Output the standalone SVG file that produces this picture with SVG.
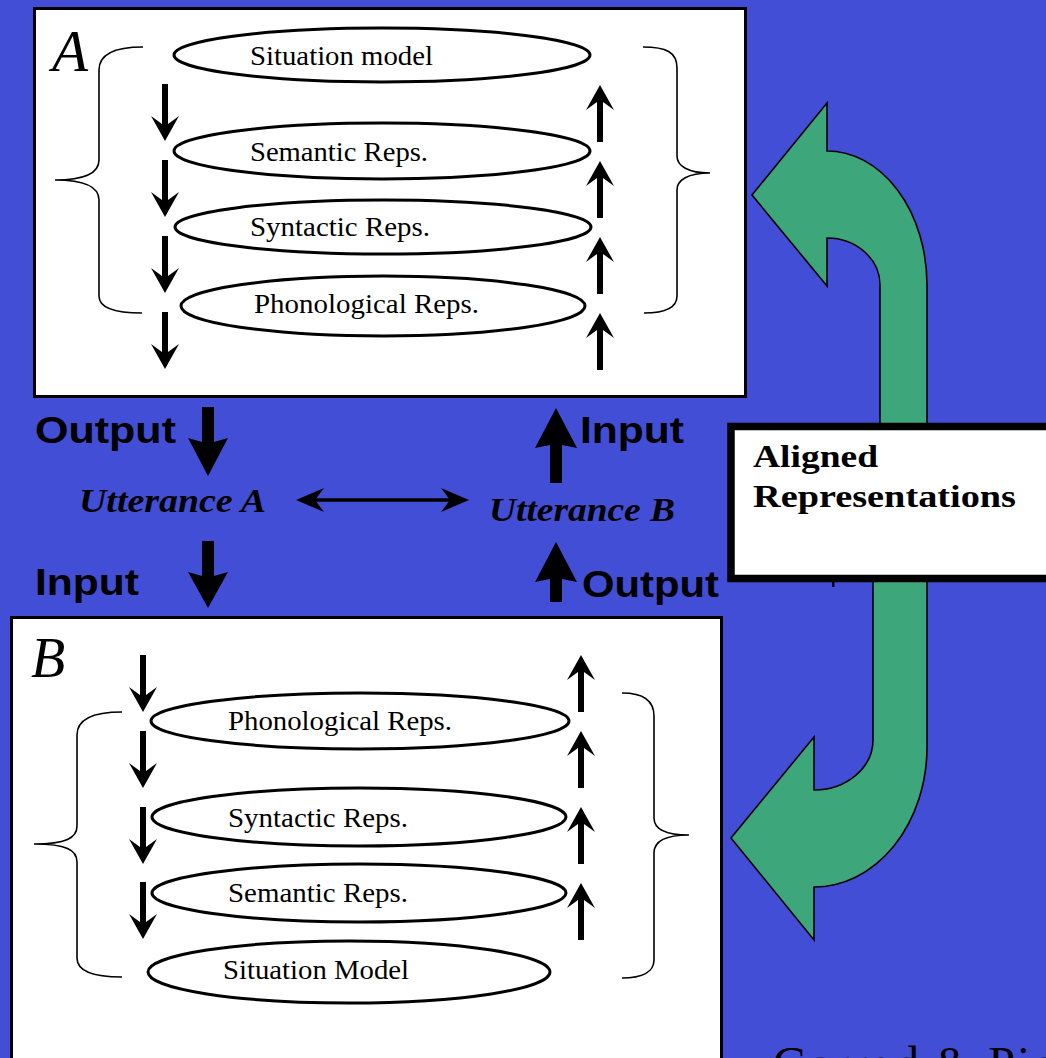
<svg xmlns="http://www.w3.org/2000/svg" xmlns:xlink="http://www.w3.org/1999/xlink" width="1046" height="1058" viewBox="0 0 1046 1058">
<style>
.bg{fill:#434ED6}
.box{fill:#fff;stroke:#000;stroke-width:3}
.ell{fill:#fff;stroke:#000;stroke-width:3}
.brace{fill:none;stroke:#000;stroke-width:1.6}
.rep{font-family:"Liberation Serif","Times New Roman",serif;font-size:28px;fill:#000}
.big{font-family:"Liberation Serif","Times New Roman",serif;font-style:italic;fill:#000}
.io{font-family:"Liberation Sans",Arial,sans-serif;font-weight:bold;font-size:37px;fill:#000}
.utt{font-family:"Liberation Serif","Times New Roman",serif;font-weight:bold;font-style:italic;font-size:34px;fill:#000}
.al{font-family:"Liberation Serif","Times New Roman",serif;font-weight:bold;font-size:32px;fill:#000}
.green{fill:#3EA67B;stroke:#000;stroke-width:1.6;stroke-linejoin:miter}
.arr{fill:#000}
</style>
<defs>
<path id="dn" d="M -3 0 H 3 V 40 L 14 32 L 0 57 L -14 32 L -3 40 Z"/>
</defs>
<rect class="bg" x="0" y="0" width="1046" height="1058"/>

<g id="green-arrows">
<path class="green" d="M 927 432 L 927 285 A 100 134 0 0 0 827 151 L 827 103 L 752 195 L 827 286 L 827 238 A 53 47 0 0 1 880 285 L 880 432 Z"/>
<path class="green" d="M 873 572 L 873 740 A 59 50 0 0 1 814 790 L 814 737 L 731 838 L 814 940 L 814 887 A 113 140 0 0 0 927 747 L 927 572 Z"/>
</g>

<g id="node-A">
<rect class="box" x="34.5" y="8.5" width="711" height="388"/>
<text class="big" x="52" y="71" font-size="59">A</text>
<path class="brace" d="M 143 47 C 118 47 99 52 99 70 L 99 160 C 99 172 88 180 55 180 C 88 180 99 188 99 200 L 99 296 C 99 308 115 313 142 313"/>
<path class="brace" d="M 643 47 C 666 47 677 52 677 68 L 677 156 C 677 166 688 173 710 173 C 688 173 677 180 677 190 L 677 296 C 677 308 665 313 644 313"/>
<g id="A-situation"><ellipse class="ell" cx="382" cy="55" rx="208" ry="27"/><text class="rep" x="250" y="65" textLength="183" lengthAdjust="spacingAndGlyphs">Situation model</text></g>
<g id="A-semantic"><ellipse class="ell" cx="382" cy="151" rx="208" ry="28"/><text class="rep" x="250" y="161" textLength="178" lengthAdjust="spacingAndGlyphs">Semantic Reps.</text></g>
<g id="A-syntactic"><ellipse class="ell" cx="383" cy="227" rx="208" ry="27"/><text class="rep" x="250" y="236" textLength="180" lengthAdjust="spacingAndGlyphs">Syntactic Reps.</text></g>
<g id="A-phonological"><ellipse class="ell" cx="383" cy="306" rx="202" ry="30"/><text class="rep" x="254" y="313" textLength="225" lengthAdjust="spacingAndGlyphs">Phonological Reps.</text></g>
<g class="arr">
<use href="#dn" transform="translate(165,84)"/>
<use href="#dn" transform="translate(165,160)"/>
<use href="#dn" transform="translate(165,236)"/>
<use href="#dn" transform="translate(165,312)"/>
<use href="#dn" transform="translate(600,142) rotate(180)"/>
<use href="#dn" transform="translate(600,218) rotate(180)"/>
<use href="#dn" transform="translate(600,294) rotate(180)"/>
<use href="#dn" transform="translate(600,370) rotate(180)"/>
</g>
</g>

<g id="node-B">
<rect class="box" x="11.5" y="617.5" width="710" height="460"/>
<text class="big" x="31" y="677" font-size="56">B</text>
<path class="brace" d="M 122 712 C 94 712 77 718 77 735 L 77 826 C 77 838 66 844 34 844 C 66 844 77 850 77 862 L 77 958 C 77 972 96 977 122 977"/>
<path class="brace" d="M 622 693 C 642 693 654 700 654 716 L 654 818 C 654 829 665 835 689 835 C 665 835 654 842 654 853 L 654 960 C 654 972 642 978 622 978"/>
<g id="B-phonological"><ellipse class="ell" cx="360" cy="721" rx="209" ry="28"/><text class="rep" x="228" y="730" textLength="224" lengthAdjust="spacingAndGlyphs">Phonological Reps.</text></g>
<g id="B-syntactic"><ellipse class="ell" cx="359" cy="817" rx="207" ry="29"/><text class="rep" x="228" y="827" textLength="180" lengthAdjust="spacingAndGlyphs">Syntactic Reps.</text></g>
<g id="B-semantic"><ellipse class="ell" cx="359" cy="893" rx="207" ry="29"/><text class="rep" x="228" y="902" textLength="180" lengthAdjust="spacingAndGlyphs">Semantic Reps.</text></g>
<g id="B-situation"><ellipse class="ell" cx="349" cy="972" rx="201" ry="31"/><text class="rep" x="223" y="979" textLength="186" lengthAdjust="spacingAndGlyphs">Situation Model</text></g>
<g class="arr">
<use href="#dn" transform="translate(143,655)"/>
<use href="#dn" transform="translate(143,731)"/>
<use href="#dn" transform="translate(143,807)"/>
<use href="#dn" transform="translate(143,882)"/>
<use href="#dn" transform="translate(581,712) rotate(180)"/>
<use href="#dn" transform="translate(581,788) rotate(180)"/>
<use href="#dn" transform="translate(581,864) rotate(180)"/>
<use href="#dn" transform="translate(581,940) rotate(180)"/>
</g>
</g>

<g id="node-aligned">
<rect x="731" y="426.5" width="340" height="152" fill="#fff" stroke="#000" stroke-width="7.5"/>
<text class="al" x="753" y="467" textLength="125" lengthAdjust="spacingAndGlyphs">Aligned</text>
<text class="al" x="753" y="507" textLength="263" lengthAdjust="spacingAndGlyphs">Representations</text>
<rect x="832" y="582" width="2.5" height="5" fill="#000"/>
</g>

<g id="utterances">
<text class="utt" x="79" y="512" textLength="187" lengthAdjust="spacingAndGlyphs">Utterance A</text>
<text class="utt" x="489" y="521" textLength="186" lengthAdjust="spacingAndGlyphs">Utterance B</text>
</g>

<g id="labels">
<text class="io" x="35" y="443" textLength="141" lengthAdjust="spacingAndGlyphs">Output</text>
<text class="io" x="580" y="443" textLength="104" lengthAdjust="spacingAndGlyphs">Input</text>
<text class="io" x="35" y="595" textLength="104" lengthAdjust="spacingAndGlyphs">Input</text>
<text class="io" x="582" y="597" textLength="137" lengthAdjust="spacingAndGlyphs">Output</text>
</g>

<g id="connectors" class="arr">
<path d="M 202 407 H 214 V 442 L 228 438 L 208 476 L 188 438 L 202 442 Z"/>
<path d="M 202 541 H 214 V 576 L 228 572 L 208 608 L 188 572 L 202 576 Z"/>
<path d="M 550 483 H 562 V 445 L 577 448 L 556 408 L 535 448 L 550 445 Z"/>
<path d="M 550 602 H 562 V 579 L 577 582 L 556 542 L 535 582 L 550 579 Z"/>
<line x1="312" y1="500" x2="453" y2="500" stroke="#000" stroke-width="3.5"/>
<path d="M 296 500 L 324 488 L 315 500 L 324 512 Z"/>
<path d="M 469 500 L 441 488 L 450 500 L 441 512 Z"/>
</g>

<text x="773" y="1080" font-family="'Liberation Serif','Times New Roman',serif" font-size="48" letter-spacing="2" fill="#000">Garrod &amp; Pickering</text>
</svg>
